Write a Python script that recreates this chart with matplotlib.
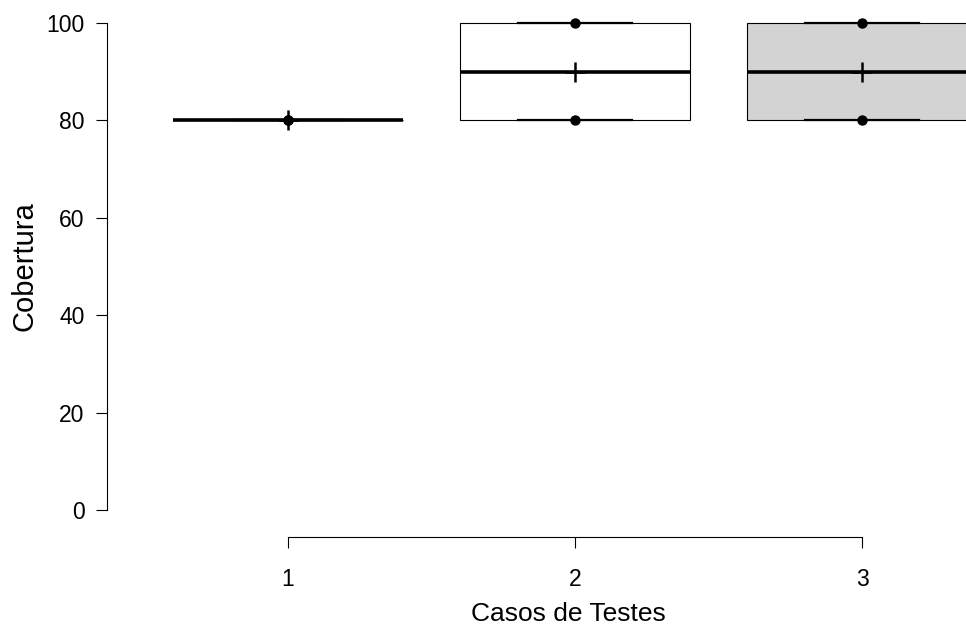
import matplotlib
matplotlib.use("Agg")
import matplotlib.pyplot as plt
import numpy as np

plt.rcParams['font.family'] = ['Liberation Sans', 'DejaVu Sans']

# coverage (%) per test case
casos = [1, 2, 3]
cobertura = [
    [80, 80],
    [80, 100],
    [80, 100],
]
box_colors = ['white', 'white', 'lightgray']
y_ticks = [0, 20, 40, 60, 80, 100]


def fivenum_stats(values, label):
    # R-style hinges (boxplot.stats)
    v = np.sort(np.asarray(values, dtype=float))
    n = len(v)
    n4 = np.floor((n + 3) / 2) / 2
    d = np.array([1, n4, (n + 1) / 2, n + 1 - n4, n]) - 1
    q = 0.5 * (v[np.floor(d).astype(int)] + v[np.ceil(d).astype(int)])
    return {'whislo': q[0], 'q1': q[1], 'med': q[2], 'q3': q[3],
            'whishi': q[4], 'label': label, 'fliers': []}


fig = plt.figure(figsize=(9.66, 6.25), dpi=100)
ax = fig.add_axes([120 / 966, 95 / 625, 846 / 966, 527 / 625])

stats = [fivenum_stats(vals, str(c)) for vals, c in zip(cobertura, casos)]
bp = ax.bxp(stats, positions=casos, widths=0.8, patch_artist=True,
            showfliers=False,
            boxprops=dict(linewidth=0.8, edgecolor='black'),
            medianprops=dict(color='black', linewidth=2.6),
            whiskerprops=dict(color='black', linewidth=1.0, linestyle='--'),
            capprops=dict(color='black', linewidth=1.6), capwidths=0.4)
for patch, col in zip(bp['boxes'], box_colors):
    patch.set_facecolor(col)

# data points and means
for c, vals in zip(casos, cobertura):
    ax.scatter([c] * len(vals), vals, s=42, color='black', zorder=4)
    ax.plot(c, np.mean(vals), marker='+', markersize=14, mew=1.8,
            color='black', zorder=5)

ax.set_xlim(0.4146, 3.3624)
ax.set_ylim(-4.1, 104.1)

for side in ['top', 'right']:
    ax.spines[side].set_visible(False)
ax.spines['left'].set_position(('outward', 9.4))
ax.spines['bottom'].set_position(('outward', 5))
ax.spines['left'].set_bounds(0, 100)
ax.spines['bottom'].set_bounds(1, 3)
ax.spines['left'].set_linewidth(0.8)
ax.spines['bottom'].set_linewidth(0.8)

ax.set_yticks(y_ticks)
ax.set_xticks(casos)
ax.set_xticklabels([str(c) for c in casos])
ax.tick_params(axis='both', length=8, width=0.8, labelsize=16.5)
ax.tick_params(axis='y', pad=8)
ax.tick_params(axis='x', pad=14)

ax.set_xlabel("Casos de Testes", fontsize=19, labelpad=8)
ax.xaxis.label.set_x((568 - 120) / 846)
ax.set_ylabel("Cobertura", fontsize=21, labelpad=6)

fig.savefig("out.png", dpi=100)
